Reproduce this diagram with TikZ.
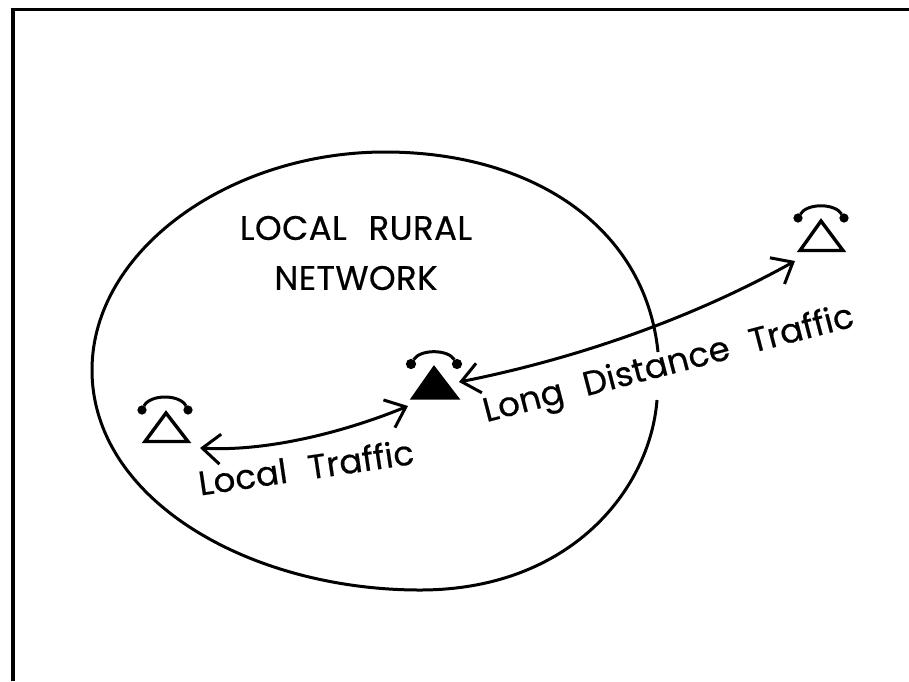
\documentclass[tikz,border=0pt]{standalone}
\usepackage{fontspec}
\setmainfont{Poppins}[WordSpace=2.3,LetterSpace=0.6,FakeBold=0.5]
\newfontfamily\titlefont{Poppins}[WordSpace=2.3,LetterSpace=1.2,FakeBold=0.5]
\usetikzlibrary{arrows.meta}
\tikzset{
  x=1pt,y=-1pt,
  ln/.style={line width=3pt,black},
  conn/.style={line width=3pt,black,{Straight Barb[length=18pt,width=30pt,line width=3pt]}-{Straight Barb[length=18pt,width=30pt,line width=3pt]}},
  lbl/.style={font=\fontsize{34}{50}\selectfont,inner sep=0pt,align=center},
  tri/.style={draw,line width=3.4pt,line join=miter},
  dot/.style={draw,line width=3pt,fill=black,circle,inner sep=0pt},
}
\begin{document}
\begin{tikzpicture}
\useasboundingbox (0,0) rectangle (909,681);
\draw[line width=4.5pt] (13,681) -- (13,9.5);
\draw[line width=3pt] (10.75,9.5) -- (909,9.5);
% ellipse with gap
\draw[ln] (657,400) .. controls (650,490) and (570,590) .. (420,590)
  .. controls (250,590) and (92,500) .. (92,370)
  .. controls (92,250) and (230,152) .. (385,152)
  .. controls (530,152) and (645,225) .. (658,352);
\node[lbl,font=\fontsize{34}{50}\selectfont\titlefont] (title) at (356,253) {LOCAL RURAL\\NETWORK};
% phones
\draw[tri,fill=black] (434,368) -- (413,398) -- (457,398) -- cycle;
\draw[tri] (166,413) -- (145,441.5) -- (188,441.5) -- cycle;
\draw[tri] (821,221) -- (800,250.5) -- (843,250.5) -- cycle;
\node[dot,minimum size=7pt] (c1) at (411,364) {};
\node[dot,minimum size=7pt] (c2) at (457,364) {};
\draw[ln] (c1) .. controls (420,349) and (448,349) .. (c2);
\node[dot,minimum size=6pt] (l1) at (142,410) {};
\node[dot,minimum size=6pt] (l2) at (188,410) {};
\draw[ln] (l1) .. controls (150,394) and (180,394) .. (l2);
\node[dot,minimum size=6pt] (r1) at (798,218) {};
\node[dot,minimum size=6pt] (r2) at (844,218) {};
\draw[ln] (r1) .. controls (807,203) and (835,203) .. (r2);
% connectors
\coordinate (lls) at (200,448);
\coordinate (lle) at (408,406);
\coordinate (lds) at (459,382);
\coordinate (lde) at (795,261);
\draw[conn] (lls) .. controls (270,452) and (350,430) .. (lle);
\draw[conn] (lds) .. controls (560,362) and (680,325) .. (lde);
\node[lbl,rotate=8.4] (lt) at (306,467) {Local Traffic};
\node[lbl,rotate=14.6] (ldt) at (669,366) {Long Distance Traffic};
\end{tikzpicture}
\end{document}
